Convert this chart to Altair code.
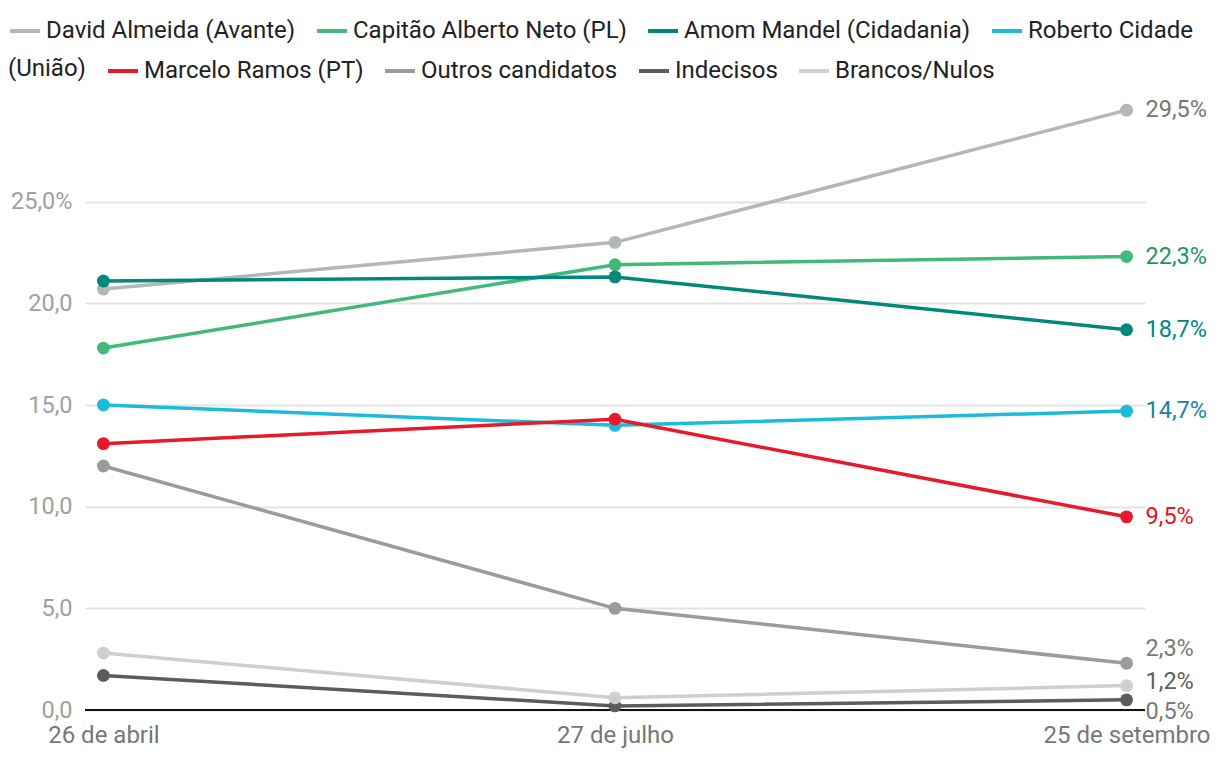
import altair as alt
import pandas as pd

# ---- data ----
datas = ["26 de abril", "27 de julho", "25 de setembro"]
series = [
    "David Almeida (Avante)",
    "Capitão Alberto Neto (PL)",
    "Amom Mandel (Cidadania)",
    "Roberto Cidade (União)",
    "Marcelo Ramos (PT)",
    "Outros candidatos",
    "Indecisos",
    "Brancos/Nulos",
]
david = [20.7, 23.0, 29.5]
capitao = [17.8, 21.9, 22.3]
amom = [21.1, 21.3, 18.7]
roberto = [15.0, 14.0, 14.7]
marcelo = [13.1, 14.3, 9.5]
outros = [12.0, 5.0, 2.3]
indecisos = [1.7, 0.2, 0.5]
brancos = [2.8, 0.6, 1.2]
valores = [david, capitao, amom, roberto, marcelo, outros, indecisos, brancos]
y_ticks = [0, 5, 10, 15, 20, 25]

# ---- styles ----
cores = ["#b2b7b7", "#41b97a", "#00897b", "#1bbcd9", "#e8192c", "#9b9b9b", "#5c5c5c", "#cfcfcf"]
cores_rotulo = ["#767676", "#1f9660", "#00897b", "#1086a3", "#e0151f", "#7a7a7a", "#7a7a7a", "#5e5e5e"]
nudge = {"Outros candidatos": -14, "Brancos/Nulos": -4, "Indecisos": 12}
FONT = "Roboto"

rows = []
for s, vals in zip(series, valores):
    for d, v in zip(datas, vals):
        rows.append({"serie": s, "data": d, "valor": v})
df = pd.DataFrame(rows)

lab_rows = []
for s, vals, c in zip(series, valores, cores_rotulo):
    lab_rows.append({"serie": s, "data": datas[-1], "valor": vals[-1],
                     "texto": f"{vals[-1]:.1f}".replace(".", ",") + "%", "cor": c})
labels = pd.DataFrame(lab_rows)

x_enc = alt.X("data:N", sort=datas,
              scale=alt.Scale(type="point", padding=0.036),
              axis=alt.Axis(title=None, labelAngle=0, domain=False, ticks=False, grid=False,
                            labelFontSize=24, labelColor="#777777", labelFont=FONT,
                            labelPadding=13))
y_enc = alt.Y("valor:Q", scale=alt.Scale(domain=[0, 30], nice=False),
              axis=alt.Axis(title=None, values=y_ticks, domain=False, ticks=False,
                            gridColor="#e3e3e3", gridWidth=2,
                            labelFontSize=23.5, labelColor="#a0a0a0", labelFont=FONT,
                            labelPadding=13,
                            labelExpr="replace(format(datum.value, '.1f'), '.', ',') + (datum.value == 25 ? '%' : '')"))

legend_common = dict(orient="none", legendX=-77, direction="horizontal", padding=0,
                     symbolType="stroke", symbolSize=900, symbolStrokeWidth=4,
                     labelFontSize=24, labelFont=FONT, labelColor="#222222",
                     labelOffset=4, columnPadding=13, labelLimit=400)

row1 = series[:4]
row2 = series[4:]
color_a = alt.Color("serie:N", sort=row1,
                    scale=alt.Scale(domain=row1, range=cores[:4]),
                    legend=alt.Legend(title=None, legendY=-86,
                                      labelExpr="datum.label == 'Roberto Cidade (União)' ? 'Roberto Cidade' : datum.label",
                                      **legend_common))
color_b = alt.Color("serie:N", sort=row2,
                    scale=alt.Scale(domain=row2, range=cores[4:]),
                    legend=alt.Legend(title="(União)", titleOrient="left", titleFontSize=24,
                                      titleFontWeight="normal", titleColor="#222222", titleFont=FONT,
                                      titlePadding=20, titleBaseline="middle", legendY=-46,
                                      **legend_common))

base = alt.Chart(df)
lines_a = base.transform_filter(alt.FieldOneOfPredicate(field="serie", oneOf=row1)).mark_line(
    strokeWidth=3.5).encode(x=x_enc, y=y_enc, color=color_a)
lines_b = base.transform_filter(alt.FieldOneOfPredicate(field="serie", oneOf=row2)).mark_line(
    strokeWidth=3.5).encode(x=x_enc, y=y_enc, color=color_b)
pts = base.mark_circle(size=165, opacity=1).encode(
    x=x_enc, y=y_enc,
    color=alt.Color("serie:N", sort=series, scale=alt.Scale(domain=series, range=cores), legend=None))
zero = alt.Chart(pd.DataFrame({"z": [0]})).mark_rule(color="#111111", strokeWidth=2).encode(y=alt.Y("z:Q"))

label_layers = []
for s in series:
    label_layers.append(
        alt.Chart(labels).transform_filter(alt.datum.serie == s)
        .mark_text(align="left", baseline="middle", dx=19, dy=nudge.get(s, 0),
                   fontSize=23.5, font=FONT)
        .encode(x=alt.X("data:N", sort=datas), y=alt.Y("valor:Q"),
                text="texto:N", color=alt.Color("cor:N", scale=None))
    )

chart = alt.layer(zero, lines_a, lines_b, pts, *label_layers).resolve_scale(color="independent").properties(
    width=1060, height=610,
    autosize=alt.AutoSizeParams(type="none"),
    padding={"left": 77, "top": 92, "right": 67, "bottom": 40},
).configure(font=FONT, view=alt.ViewConfig(stroke=None))

chart.save("out.html", embed_options={"renderer": "svg", "actions": False})
